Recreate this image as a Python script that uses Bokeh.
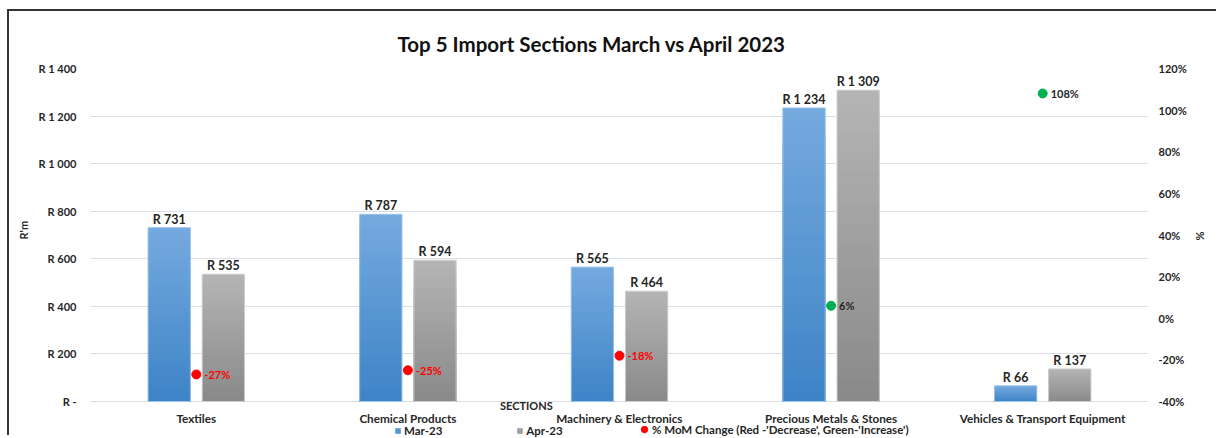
import numpy as np
from bokeh.plotting import figure
from bokeh.models import (FactorRange, Range1d, LinearAxis, FixedTicker, Legend, LegendItem,
                          ColumnDataSource, PrintfTickFormatter, Title)
from bokeh.transform import dodge
from bokeh.core.properties import value
from bokeh.embed import file_html
from bokeh.resources import INLINE

categories = ["Textiles", "Chemical Products", "Machinery & Electronics",
              "Precious Metals & Stones", "Vehicles & Transport Equipment"]
mar_23 = [731, 787, 565, 1234, 66]
apr_23 = [535, 594, 464, 1309, 137]
mom_change = [-27, -25, -18, 6, 108]
left_ticks = [0, 200, 400, 600, 800, 1000, 1200, 1400]
right_ticks = [-40, -20, 0, 20, 40, 60, 80, 100, 120]

FONT = "Lato"
TXT = "#262626"

# layout (pixels): value area is 333 px tall, with 36 px below the zero line for labels/legend
AREA_H = 333.0
BELOW_PX = 36.0
y_lo = -BELOW_PX / AREA_H * 1400
p_lo = -40 - BELOW_PX / AREA_H * 160


def rand_fmt(v):
    if v == 0:
        return "R -"
    return "R " + f"{v:,}".replace(",", " ")


p = figure(x_range=FactorRange(factors=categories, range_padding=0),
           y_range=Range1d(y_lo, 1400), width=1209, height=426,
           output_backend="svg", toolbar_location=None,
           min_border_left=81, min_border_right=70, min_border_top=57, min_border_bottom=0)
p.styles = {"margin-left": "7px", "margin-top": "9px",
            "border-left": "2px solid #333333", "border-top": "2px solid #333333"}
p.extra_y_ranges = {"pct": Range1d(p_lo, 120)}
p.outline_line_color = None
p.background_fill_color = "white"
p.border_fill_color = "white"

p.title = Title(text="Top 5 Import Sections March vs April 2023", align="left", offset=307,
                text_font=FONT, text_font_size="20.5px", text_font_style="bold",
                text_color="#111111", standoff=26)

# grid
p.xgrid.grid_line_color = None
p.ygrid.grid_line_color = "#d9dee7"
p.ygrid.grid_line_width = 1
p.ygrid.ticker = FixedTicker(ticks=left_ticks)

# left axis
ya = p.yaxis[0]
ya.ticker = FixedTicker(ticks=left_ticks)
ya.major_label_overrides = {t: rand_fmt(t) for t in left_ticks}
ya.axis_line_color = None
ya.major_tick_line_color = None
ya.minor_tick_line_color = None
ya.major_tick_out = 0
ya.minor_tick_out = 0
ya.major_label_standoff = 14
ya.major_label_text_font = FONT
ya.major_label_text_font_size = "11px"
ya.major_label_text_font_style = "bold"
ya.major_label_text_color = TXT
p.add_layout(Title(text="R'm", align="left", offset=198, standoff=11,
                   text_font=FONT, text_font_size="11px", text_font_style="bold",
                   text_color=TXT), "left")

# right axis
ra = LinearAxis(y_range_name="pct", ticker=FixedTicker(ticks=right_ticks),
                formatter=PrintfTickFormatter(format="%d%%"))
ra.axis_line_color = None
ra.major_tick_line_color = None
ra.minor_tick_line_color = None
ra.major_tick_out = 0
ra.minor_tick_out = 0
ra.major_label_standoff = 10
ra.major_label_text_font = FONT
ra.major_label_text_font_size = "11px"
ra.major_label_text_font_style = "bold"
ra.major_label_text_color = TXT
p.add_layout(ra, "right")
p.add_layout(Title(text="%", align="left", offset=163, standoff=8,
                   text_font=FONT, text_font_size="11px", text_font_style="bold",
                   text_color=TXT), "right")

# x axis: category names are drawn under the zero line inside the plot area
p.xaxis.visible = False
csrc = ColumnDataSource(dict(cat=categories, y=[0] * len(categories)))
p.text(x="cat", y="y", text="cat", source=csrc, y_offset=16,
       text_align="center", text_baseline="middle",
       text_font=value(FONT), text_font_size="11.7px", text_font_style="bold",
       text_color=TXT)
p.text(x=[2.06], y=[0], text=["SECTIONS"], y_offset=4,
       text_align="center", text_baseline="middle",
       text_font=value(FONT), text_font_size="11px", text_font_style="bold",
       text_color=TXT)

# bars with vertical gradient (light top -> dark bottom)
N = 30
OFF = 0.128
BW = 0.2


def lerp(c1, c2, t):
    return "#%02x%02x%02x" % tuple(int(round(a + (b - a) * t)) for a, b in zip(c1, c2))


series = [
    (mar_23, -OFF, (116, 169, 222), (62, 132, 199), "#9cc3ea"),
    (apr_23, OFF, (180, 180, 180), (138, 138, 138), "#cfcfcf"),
]
legend_bars = []
for vals, off, ctop, cbot, edge in series:
    v = np.array(vals, dtype=float)
    mid = None
    for k in range(N):
        src = ColumnDataSource(dict(cat=categories, top=v * (1 - k / N)))
        r = p.vbar(x=dodge("cat", off, range=p.x_range), top="top", bottom=0, width=BW,
                   source=src, fill_color=lerp(ctop, cbot, k / (N - 1)), line_color=None)
        if k == N // 2:
            mid = r
    legend_bars.append(mid)
    src = ColumnDataSource(dict(cat=categories, top=v))
    p.vbar(x=dodge("cat", off, range=p.x_range), top="top", bottom=0, width=BW,
           source=src, fill_alpha=0, line_color=edge, line_width=1)
    lsrc = ColumnDataSource(dict(cat=categories, y=v, t=[rand_fmt(int(x)) for x in vals]))
    p.text(x=dodge("cat", off, range=p.x_range), y="y", text="t", source=lsrc,
           text_align="center", text_baseline="bottom", y_offset=-1,
           text_font=value(FONT), text_font_size="12.5px", text_font_style="bold",
           text_color=TXT)

# MoM change dots
dot_colors = ["#ff0000" if m < 0 else "#00b050" for m in mom_change]
lab_colors = ["#ff0000" if m < 0 else TXT for m in mom_change]
dsrc = ColumnDataSource(dict(cat=categories, y=mom_change, c=dot_colors, lc=lab_colors,
                             t=[f"{m}%" for m in mom_change]))
dots = p.scatter(x="cat", y="y", y_range_name="pct", source=dsrc, size=9,
                 fill_color="c", line_color="c")
p.text(x="cat", y="y", y_range_name="pct", source=dsrc, text="t", text_color="lc",
       x_offset=8, text_align="left", text_baseline="middle",
       text_font=value(FONT), text_font_size="11px", text_font_style="bold")

common = dict(orientation="horizontal", padding=0, margin=0, border_line_color=None,
              background_fill_alpha=0, label_text_font=FONT, label_text_font_size="11.5px",
              label_text_font_style="bold", label_text_color=TXT, label_height=12)
leg1 = Legend(items=[LegendItem(label="Mar-23", renderers=[legend_bars[0]]),
                     LegendItem(label="Apr-23", renderers=[legend_bars[1]])],
              location=(304, 0), glyph_width=7, glyph_height=7, label_standoff=3,
              spacing=74, **common)
leg2 = Legend(items=[LegendItem(label="% MoM Change (Red -'Decrease', Green-'Increase')",
                                renderers=[dots], index=0)],
              location=(546, 0), glyph_width=16, glyph_height=16, label_standoff=0,
              **common)
p.add_layout(leg1, "center")
p.add_layout(leg2, "center")

open("out.html", "w").write(file_html(p, INLINE))
